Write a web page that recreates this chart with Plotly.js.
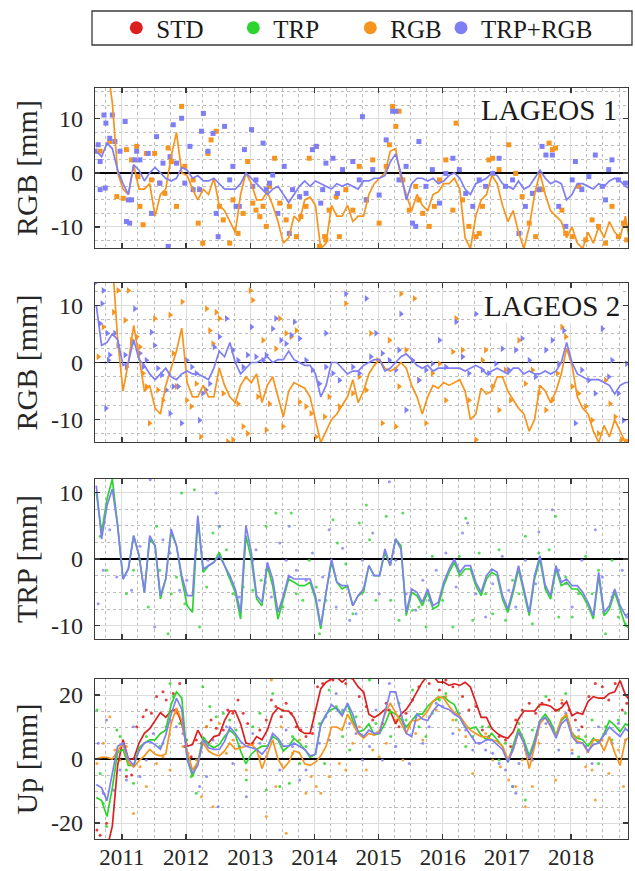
<!DOCTYPE html>
<html><head><meta charset="utf-8">
<script src="https://cdn.plot.ly/plotly-3.0.1.min.js"></script>
<style>html,body{margin:0;padding:0;background:#fff}#chart{width:635px;height:871px}</style>
</head><body><div id="chart"></div>
<script>
// ---------- sampling epochs of the smoothed series (monthly, decimal year) ----------
const EPOCH_START = 2010.6, EPOCH_STEP = 1/12, EPOCH_COUNT = 101;
const epochs = Array.from({length: EPOCH_COUNT}, (_, i) => +(EPOCH_START + i*EPOCH_STEP).toFixed(3));

const years = [2011,2012,2013,2014,2015,2016,2017,2018];
const yearLabels = ['2011','2012','2013','2014','2015','2016','2017','2018'];
const legendNames = ['STD','TRP','RGB','TRP+RGB'];

// ---------- panel 1: LAGEOS 1, RGB [mm] ----------
const l1_RGB = [30,26,20,13,0,-3,-4,1.5,-3,-3,
-2,-8,-4,-3,3,7.5,0,-0.5,-3,-5,
-3,-4,-1,-6,-7,-9,-11,-4,0,-2,
-5,-5,-3.5,-6,-9,-13,-12,-8,-9,-5,
-4.5,-6,-14,-13,-6,-8,-8,-6,-9,-8,
-8,-4,-2,-1,0,4,4.5,-1,-4,-7,
-4,-6,-7,-4,-3.5,-2,-2,-1,-3,-12,
-14,-8,-5,-4,-0.5,-2,-6,-9,-7,-11,
-14,-10,-4,0,-4,-7,-8,-9,-12,-10,
-13,-14,-11,-13,-10,-12,-9,-11,-12,-8,
-14];
const l1_TRPRGB = [4,3,5.5,4.5,0.5,-2,-4,1.5,0.5,-1.5,
0,1,0,-1,-1.5,-1,1,0.5,-1,-0.5,
-1.5,-1.5,-1,-2,-3,-3,-3,-2,0,-1,
-2,-3,-4,-3,-2.5,-4,-5.5,-4,-2.5,-1.5,
-2.5,-1.5,-2,-2.5,-3,-2,-2.5,-2,-2.5,-3,
-1.5,-1.5,-1,-1,-0.5,2,3.5,0,-5,-2,
-1,-1,-1.5,-1,-2,-1.5,-0.5,0,-1,-3,
-4,-2,-1.5,-1,0,-0.5,-2,-2.5,-3,-1.5,
-3,-2.5,-1,0.5,-1,-2,-1.5,-2,-5,-4,
-2,-2,-2.5,-3,-2,-2.5,-1.5,-1,-1.5,-2.5,
-3];
const ptsL1_RGB = [[2010.66,4.0],[2010.81,5.8],[2010.92,-4.4],[2011.02,-4.7],[2011.07,4.3],[2011.15,2.4],[2011.23,4.9],[2011.28,-6.2],[2011.33,-9.6],[2011.25,-0.7],[2011.38,3.6],[2011.46,-1.3],[2011.51,3.6],[2011.59,-1.9],[2011.67,-3.8],[2011.72,4.6],[2011.77,2.1],[2011.85,-6.2],[2011.93,12.3],[2011.98,1.2],[2012.11,-1.3],[2012.19,-9.3],[2012.26,-13.0],[2012.34,3.6],[2012.39,6.1],[2012.47,7.7],[2012.52,-6.2],[2012.58,-8.7],[2012.68,-13.0],[2012.73,-5.0],[2012.81,-11.2],[2012.89,-7.5],[2012.96,2.1],[2013.04,-5.6],[2013.09,-6.9],[2013.15,-8.1],[2013.20,-6.2],[2013.25,-9.9],[2013.30,-2.5],[2013.38,2.7],[2013.46,-5.6],[2013.56,-8.7],[2013.61,-6.2],[2013.72,-11.8],[2013.79,-8.1],[2013.87,-6.2],[2013.92,2.7],[2014.03,4.9],[2014.08,-13.6],[2014.16,-11.8],[2014.18,-12.4],[2014.23,-6.9],[2014.34,-4.4],[2014.39,-11.8],[2014.49,-3.1],[2014.60,-6.9],[2014.70,1.2],[2014.81,-5.0],[2014.91,2.4],[2015.01,-9.3],[2015.12,1.2],[2015.17,5.2],[2015.22,12.3],[2015.27,8.6],[2015.32,11.4],[2015.38,-1.3],[2015.48,-6.9],[2015.58,-2.5],[2015.63,-5.0],[2015.69,-7.5],[2015.79,-9.9],[2015.87,-6.2],[2015.95,-1.3],[2016.05,2.4],[2016.16,-6.9],[2016.21,9.2],[2016.31,-5.0],[2016.41,-9.9],[2016.52,-11.8],[2016.57,-11.2],[2016.62,-6.2],[2016.72,2.4],[2016.78,2.7],[2016.88,0.6],[2017.03,5.2],[2017.14,-0.1],[2017.24,-4.4],[2017.35,-9.3],[2017.45,-11.8],[2017.55,-3.1],[2017.66,5.5],[2017.71,4.3],[2017.76,4.6],[2017.86,-6.9],[2017.92,-11.2],[2018.02,-11.8],[2018.12,-2.5],[2018.23,-12.4],[2018.33,-8.7],[2018.43,-9.9],[2018.54,-13.0],[2018.64,-6.2],[2018.74,-11.8],[2018.82,-9.3],[2018.87,-12.4]];
const ptsL1_TRPRGB = [[2010.58,4.0],[2010.63,5.2],[2010.72,10.7],[2010.75,9.2],[2010.81,6.4],[2010.66,2.1],[2010.74,-2.8],[2010.66,-3.1],[2010.85,10.7],[2010.89,5.8],[2010.97,4.0],[2011.05,9.5],[2011.10,-5.0],[2011.15,-5.0],[2011.20,2.4],[2011.07,-9.0],[2011.12,-9.3],[2011.23,4.0],[2011.28,2.4],[2011.41,3.6],[2011.46,-7.5],[2011.54,6.7],[2011.59,-1.9],[2011.64,1.8],[2011.72,-13.6],[2011.75,3.0],[2011.80,8.9],[2011.85,1.8],[2011.93,10.1],[2011.98,-1.9],[2012.06,4.9],[2012.11,-3.1],[2012.21,-3.1],[2012.24,7.7],[2012.27,11.0],[2012.34,4.0],[2012.42,7.3],[2012.47,-7.5],[2012.50,-11.8],[2012.60,8.6],[2012.68,-1.3],[2012.73,1.2],[2012.78,-6.2],[2012.83,-6.2],[2012.91,4.3],[2013.02,8.0],[2013.04,-2.5],[2013.09,-1.3],[2013.20,5.5],[2013.25,-3.1],[2013.30,-1.9],[2013.35,-0.4],[2013.43,-7.5],[2013.53,1.2],[2013.61,-11.2],[2013.66,-3.1],[2013.77,-4.4],[2013.87,-3.8],[2013.97,4.3],[2014.03,4.9],[2014.10,-5.6],[2014.18,1.8],[2014.13,-3.1],[2014.29,2.7],[2014.36,-3.8],[2014.44,0.6],[2014.60,2.1],[2014.70,-1.3],[2014.75,10.4],[2014.81,-5.0],[2014.91,0.6],[2015.01,-4.1],[2015.12,6.1],[2015.22,11.4],[2015.27,11.4],[2015.32,-1.3],[2015.43,1.2],[2015.53,-9.3],[2015.58,-9.9],[2015.63,5.8],[2015.74,-2.5],[2015.84,0.6],[2015.95,-5.6],[2016.05,-0.1],[2016.16,2.7],[2016.26,0.6],[2016.36,-3.8],[2016.47,-6.2],[2016.57,-1.3],[2016.67,-2.5],[2016.78,-0.1],[2016.88,2.7],[2016.98,-2.5],[2017.09,-1.3],[2017.19,-11.2],[2017.29,-6.2],[2017.40,-3.8],[2017.50,-3.1],[2017.55,4.9],[2017.61,3.3],[2017.71,3.3],[2017.81,-6.2],[2017.92,-9.9],[2018.02,-1.3],[2018.07,2.1],[2018.17,-3.1],[2018.28,-0.7],[2018.38,3.3],[2018.49,-2.5],[2018.54,-5.0],[2018.59,0.6],[2018.64,2.4],[2018.74,-1.3],[2018.85,-1.9]];

// ---------- panel 2: LAGEOS 2, RGB [mm] ----------
const l2_RGB = [30,28,24,18,4,-5,0,6.5,1,-5,
-4,-8,-9,-4,-1,2,6,-3.5,-6,-6,
-4,-6,-6,-1,-4,-6,-7,-4,-2.5,-3.5,
-2,-7,-4,-2.5,-6,-9.5,-5,-3.5,-4,-4.5,
-6,-10,-14,-12,-10,-9,-7.5,-6,-3,-7,
-5,-2,-0.5,0.5,-1,-1.5,-1,0,-1,-4,
-6,-9,-6,-4,-4.5,-3.5,-4,-3.5,-3,-5,
-10,-9,-4.5,-5.5,-5,-2.5,-2.5,-5,-6.5,-8,
-9,-12,-10,-4,-5,-7,-5,-2,2.5,-0.5,
-6,-8,-9,-12,-14,-11,-13,-10,-12,-14,
-13];
const l2_TRPRGB = [10,3,3.5,5,4,-0.5,0,4,0.5,-0.5,
-2,-3,-2,-1,-2.5,-3,-2,-1.5,-2,-2,
-2.5,-3,-1,2,1,3.5,0,-2,-1,0,
0,0.5,1,0,0.5,0.5,2,0.5,0,-0.5,
-0.5,-2,-6,-4,0,0,-1,-2,-1.5,-1.5,
-0.5,0,0.5,0.5,-1.5,-1,0,1,1.5,0.5,
-0.5,-1,-0.5,-1.5,-1,-1,-1,-1,-1,-1.5,
-1,-0.5,-1,-2,-1.5,-1,-1.5,-2,-1,-1,
-2,-1.5,-2,-2,-1.5,-2,-1.5,0,3.5,0,
-2,-2.5,-3,-3,-3,-3.5,-4,-5.5,-4,-3.5,
-3.5];
const ptsL2_RGB = [[2010.63,1.0],[2010.71,6.2],[2010.87,8.8],[2010.94,12.6],[2011.05,7.4],[2011.10,12.6],[2011.15,3.9],[2011.23,4.5],[2011.28,2.7],[2011.33,-1.9],[2011.38,-4.2],[2011.43,-10.6],[2011.51,7.7],[2011.56,-4.8],[2011.64,-6.6],[2011.75,8.3],[2011.80,1.6],[2011.85,-4.2],[2011.94,10.6],[2012.01,-6.6],[2012.08,-7.7],[2012.16,-3.7],[2012.23,-13.0],[2012.32,9.4],[2012.37,5.6],[2012.42,3.3],[2012.47,8.8],[2012.52,7.7],[2012.58,-5.4],[2012.65,-13.8],[2012.73,-13.5],[2012.81,-7.2],[2012.89,-11.2],[2012.96,-12.4],[2013.00,12.6],[2013.04,10.9],[2013.12,-6.0],[2013.20,3.9],[2013.25,-11.8],[2013.30,-7.2],[2013.40,2.4],[2013.46,7.7],[2013.51,-11.2],[2013.56,5.1],[2013.64,4.5],[2013.72,5.6],[2013.77,-6.9],[2013.87,-7.7],[2013.95,-8.9],[2014.03,-13.0],[2014.16,-9.5],[2014.23,-6.0],[2014.39,-7.7],[2014.49,10.3],[2014.60,-5.4],[2014.70,-2.5],[2014.81,-4.8],[2014.88,5.1],[2014.99,0.4],[2015.06,-10.6],[2015.17,3.9],[2015.27,-11.2],[2015.32,-4.2],[2015.35,12.0],[2015.43,2.2],[2015.56,11.2],[2015.63,-3.1],[2015.74,-10.6],[2015.84,-1.9],[2015.95,-0.2],[2016.05,-6.6],[2016.16,1.9],[2016.21,7.7],[2016.31,2.2],[2016.41,-6.6],[2016.52,-13.5],[2016.62,0.4],[2016.67,2.2],[2016.78,-4.2],[2016.88,-8.3],[2016.98,-1.3],[2017.06,-6.6],[2017.19,3.9],[2017.29,-3.7],[2017.40,-1.3],[2017.50,-5.4],[2017.61,-8.3],[2017.71,-6.6],[2017.79,-1.9],[2017.86,6.2],[2017.92,4.5],[2018.02,-4.2],[2018.12,-5.4],[2018.23,-7.7],[2018.33,-10.1],[2018.43,-12.4],[2018.54,-3.1],[2018.61,-7.2],[2018.69,-9.5],[2018.79,-13.5],[2018.87,-13.8]];
const ptsL2_TRPRGB = [[2010.60,14.1],[2010.71,12.6],[2010.69,10.3],[2010.66,6.8],[2010.77,5.1],[2010.79,0.4],[2010.81,1.3],[2010.89,5.1],[2010.94,3.0],[2011.05,1.3],[2011.07,-0.8],[2011.15,3.3],[2011.20,9.4],[2011.28,1.6],[2011.33,-0.8],[2011.38,0.4],[2011.46,5.3],[2011.51,3.0],[2011.56,-1.0],[2011.62,-2.2],[2011.69,-4.8],[2011.75,-8.9],[2011.80,-4.2],[2011.88,-4.2],[2011.93,-10.6],[2012.01,0.4],[2012.09,-0.8],[2012.16,-1.9],[2012.21,-10.1],[2012.26,-5.4],[2012.31,-4.8],[2012.37,-3.7],[2012.44,2.7],[2012.52,4.5],[2012.63,7.7],[2012.73,2.2],[2012.81,0.4],[2012.89,-0.8],[2012.96,1.3],[2013.02,6.2],[2013.09,1.0],[2013.20,0.4],[2013.25,1.3],[2013.35,5.9],[2013.40,7.7],[2013.48,3.9],[2013.56,3.3],[2013.64,4.8],[2013.69,7.1],[2013.77,4.2],[2013.87,0.4],[2013.97,-1.3],[2014.08,-3.7],[2014.18,-0.8],[2010.75,-8.0],[2014.18,5.1],[2014.29,-1.9],[2014.39,-3.1],[2014.49,12.0],[2014.60,-0.8],[2014.70,-1.9],[2014.81,11.2],[2014.88,1.0],[2014.96,5.1],[2015.06,1.6],[2015.17,0.4],[2015.27,-1.3],[2015.32,2.2],[2015.35,8.5],[2015.43,-8.3],[2015.53,0.4],[2015.63,-3.1],[2015.74,-1.3],[2015.84,-0.2],[2015.95,3.9],[2016.05,-0.8],[2016.21,7.1],[2016.31,1.0],[2016.41,-1.9],[2016.52,8.5],[2016.62,-1.3],[2016.72,-1.9],[2016.83,-0.2],[2016.93,2.4],[2017.03,-1.3],[2017.14,2.2],[2017.24,4.2],[2017.35,0.4],[2017.45,-2.5],[2017.61,2.2],[2017.71,3.9],[2017.81,-0.2],[2017.89,5.6],[2017.97,12.3],[2018.07,-10.6],[2018.17,-1.3],[2018.28,-3.1],[2018.38,-5.4],[2018.49,5.9],[2018.59,-2.5],[2018.64,0.4],[2018.74,-5.4],[2018.82,-10.1],[2018.87,-0.2]];

// ---------- panel 3: TRP [mm] ----------
const trp_TRP = [10,4,9,12,5,-3,-1.5,3.5,0.5,-5,
3,2,-6,-3,4,2,-3,-7,-8,6,
-2,-1,-0.5,1,-1,-3,-5,-9,3.5,0,
-6,-7,-1,-4,-9,-6,-3,-3.5,-4,-4,
-3.5,-6,-10.5,-5,-0.5,-3.5,-4.5,-4,-7,-5.5,
-5,-1,-2.5,-2.5,1,-1,3,2,-8.5,-5,
-5.5,-7,-5,-7.5,-7,-4,-2,-0.5,-2.5,-1.5,
-1.5,-4,-5.5,-3,-2,-2.5,-6,-8,-5,-1.5,
-5,-8.5,-3,0,-4.5,-6,-1.5,-4,-3.5,-4.5,
-4.5,-5.5,-7,-9,-2.5,-8.5,-7.5,-5,-7.5,-10,
-10.5];
const trp_TRPRGB = [11,3,8,10.5,5,-3,-1.5,3.5,0.5,-5,
3.5,2,-5.5,-3,4.5,2,-2.5,-5.5,-5.5,6.5,
-1.5,-1,-0.5,0.5,-1,-2.5,-4.5,-8,5,1,
-5.5,-6.5,-0.5,-3,-8,-5.5,-2.5,-3,-3,-3,
-3,-5.5,-10,-5,0,-3.5,-4,-4,-7,-5.5,
-4.5,-1,-2.5,-2.5,1.5,-1,3,1.5,-8,-4.5,
-5,-6.5,-4.5,-7,-6.5,-3.5,-1.5,0,-2,-1,
-1,-3.5,-5,-2.5,-1.5,-2,-5.5,-7.5,-4.5,-1,
-4.5,-8,-2.5,0.5,-4,-5.5,-1,-3.5,-3,-4,
-4,-5,-6.5,-8.5,-2,-8,-7,-4.5,-7,-8.5,
-8];
const ptsTRP_TRP = [[2010.66,3.4],[2010.76,-1.7],[2011.07,-5.2],[2011.18,-1.7],[2011.28,-0.2],[2011.41,-7.2],[2011.54,4.9],[2011.59,-1.7],[2011.72,-11.2],[2011.77,-5.2],[2011.85,-2.7],[2011.93,9.9],[2011.98,-6.7],[2012.13,10.4],[2012.21,-10.2],[2012.32,-4.2],[2012.42,3.9],[2012.52,4.9],[2012.63,1.4],[2012.73,-5.2],[2012.89,-4.2],[2013.04,-4.7],[2013.17,-3.2],[2013.25,4.9],[2013.40,6.9],[2013.51,-7.2],[2013.64,6.9],[2013.72,-5.2],[2013.82,-6.2],[2013.92,-0.2],[2014.03,-4.2],[2014.08,-11.2],[2014.18,-6.2],[2014.29,5.9],[2014.36,2.4],[2014.49,-0.7],[2014.60,-8.2],[2014.70,5.4],[2014.81,8.1],[2014.86,2.9],[2014.96,-6.2],[2015.12,6.4],[2015.19,-6.2],[2015.32,-9.2],[2015.38,6.9],[2015.53,-7.7],[2015.63,-7.2],[2015.74,-10.2],[2015.84,0.4],[2016.00,-6.2],[2016.16,-10.2],[2016.26,0.4],[2016.36,6.1],[2016.47,-9.2],[2016.57,0.9],[2016.67,-5.2],[2016.78,-8.2],[2016.88,1.4],[2016.98,-9.2],[2017.09,-3.2],[2017.19,-5.2],[2017.29,3.4],[2017.40,-9.7],[2017.50,0.9],[2017.66,1.4],[2017.76,6.4],[2017.81,-8.7],[2017.92,-2.7],[2018.02,-8.7],[2018.12,-5.2],[2018.23,0.4],[2018.33,-5.2],[2018.43,-1.7],[2018.54,-11.2],[2018.64,-0.2],[2018.74,-8.7],[2018.85,-9.7]];
const ptsTRP_TRPRGB = [[2010.63,-6.7],[2010.71,-1.7],[2010.81,4.4],[2010.92,-2.7],[2011.15,-4.7],[2011.28,1.9],[2011.44,11.9],[2011.51,-10.2],[2011.64,2.9],[2011.75,0.9],[2011.90,-4.7],[2012.01,-3.2],[2012.16,1.4],[2012.34,-0.2],[2012.47,9.9],[2012.52,4.9],[2012.68,-2.7],[2012.83,-5.7],[2013.04,-0.2],[2013.09,1.4],[2013.25,-1.7],[2013.33,-5.7],[2013.46,2.4],[2013.56,-0.2],[2013.61,4.9],[2013.72,-1.7],[2013.87,-3.2],[2013.97,0.9],[2014.08,-6.2],[2014.13,-2.7],[2014.23,4.4],[2014.34,-7.2],[2014.44,1.6],[2014.55,-9.2],[2014.65,-8.2],[2014.75,-0.2],[2014.91,3.9],[2015.01,-5.2],[2015.17,11.6],[2015.27,-0.2],[2015.43,-5.2],[2015.58,-7.7],[2015.69,-3.2],[2015.79,-6.2],[2015.90,-1.7],[2016.05,0.9],[2016.21,-4.2],[2016.31,3.9],[2016.39,5.4],[2016.52,-5.2],[2016.67,-8.7],[2016.78,-3.7],[2016.93,0.4],[2017.03,-4.7],[2017.14,-7.2],[2017.29,-0.2],[2017.45,-3.7],[2017.50,4.1],[2017.61,-4.2],[2017.71,7.4],[2017.81,-1.7],[2017.92,-3.7],[2018.02,-7.2],[2018.17,-0.2],[2018.38,4.4],[2018.49,-2.7],[2018.64,-5.7],[2018.80,-1.7],[2018.87,-8.7]];

// ---------- panel 4: Up [mm] ----------
const up_STD = [-40,-35,-28,-21,-2,6,0,0,5,8,
9.5,12,14.5,13,15,15.5,11,4,4.5,9,
6,5,7,7.5,12,15,15,11,5,4.5,
7,6,9,14,16,15,15,13,9,8,
8,15,22,24,25,25.5,24,25.5,25,22.5,
21,14,13,14,15.5,15,11,14,15.5,18,
21,24,26,26,24,24,23,23.5,23,24,
22.5,18,13,13,9.5,8,7,6.5,8.5,12.5,
15,15,15,17,17,16.5,15,16,18,13.5,
14.5,14,18,19.5,19,19,20.5,21,24.5,20,
18];
const up_TRP = [-12,-13,-18,-9,2,3,-2,-2,3.5,5,
6,6,8,9,17,21,19,0,-5.5,-1,
7,4.5,3.5,4.5,7,9,7.5,2.5,-1.5,1.5,
3,4,4,7,6,2.5,4,6.5,5,3,
0.5,1.5,11,14,15.5,16,14,17,12,8.5,
9,11,7.5,8,11,15,14,12.5,10,12,
14,14,16.5,18,19,19.5,18,17,13,10,
9.5,10,7.5,6,8,6,4,-1,4,9.5,
6,1,6,12,14,11.5,7.5,12,13.5,8,
6.5,6,4,6.5,5,8,12,10.5,8.5,11,
10];
const up_RGB = [0,0.5,0.5,0,2.5,5,-1,-2.5,-0.5,1,
3,1.5,1,1.5,11,16,12,2.5,-3.5,-1,
5,2.5,1.5,1,2.5,5,3,3.5,4,4.5,
3,-3,1.5,6,0,-3,-1,2.5,2,-1.5,
-2,-1,1,4,10,10,9,14,11,8,
6.5,8,7.5,9,14,17.5,14.5,11,8,12,
12,13,15,18,19.5,19,16.5,14.5,13.5,11,
9,8,7,7,6,5.5,4,0,3,8.5,
5,-3,4,11,13,10,7,12.5,14,8,
5.5,5,2,6,6,2.5,7,2,-2,6,
7];
const up_TRPRGB = [-8,-9,-13,-4.5,4,5,0,-2,2.5,5,
5.5,4.5,3,7.5,14,19,15.5,0,-4.5,-2,
6,3.5,3,3,5.5,10,8,5.5,4,3.5,
3,1.5,3.5,8,6.5,4,4,5,4,3,
1,1.5,10.5,14,17,15.5,13.5,17.5,14,8.5,
7,9,8,8,15,21,21,14,8,7,
14,12.5,12,15,17,16,15.5,14,13,10,
7.5,5,5,6,6,4.5,3,-1,3,8.5,
5,0,5,12,13,10.5,6.5,11,12.5,7,
5,5,2.5,4.5,5,7.5,10,8.5,7,9.5,
8];
const ptsUp_STD = [[2010.61,-22.2],[2010.66,-23.8],[2010.76,-20.1],[2011.07,-5.5],[2011.15,-5.0],[2011.23,10.1],[2011.33,13.2],[2011.38,15.3],[2011.46,14.3],[2011.54,19.5],[2011.64,21.0],[2011.69,18.4],[2011.80,20.5],[2011.90,23.6],[2011.98,3.9],[2012.08,0.7],[2012.16,5.9],[2012.24,4.9],[2012.32,10.1],[2012.39,12.2],[2012.47,9.6],[2012.58,9.1],[2012.65,15.3],[2012.73,14.3],[2012.81,18.4],[2012.89,14.3],[2012.96,11.1],[2013.04,4.9],[2013.15,9.1],[2013.25,12.2],[2013.33,18.4],[2013.40,16.4],[2013.48,13.2],[2013.56,17.4],[2013.64,14.3],[2013.72,10.1],[2013.79,9.1],[2013.87,7.0],[2013.97,8.0],[2014.05,22.6],[2014.13,23.6],[2014.29,24.7],[2014.49,23.6],[2014.70,19.5],[2014.81,16.4],[2014.91,12.2],[2015.06,11.1],[2015.12,17.4],[2015.17,15.3],[2015.32,10.1],[2015.43,14.3],[2015.53,18.4],[2015.63,22.6],[2015.79,23.6],[2015.95,21.6],[2016.05,24.7],[2016.16,22.6],[2016.31,19.5],[2016.41,15.3],[2016.52,16.4],[2016.62,9.1],[2016.72,7.0],[2016.88,7.0],[2016.98,5.9],[2017.06,3.9],[2017.14,12.2],[2017.24,15.3],[2017.35,17.4],[2017.45,14.3],[2017.55,17.4],[2017.66,18.4],[2017.76,15.3],[2017.86,17.4],[2017.97,15.3],[2018.07,12.2],[2018.17,10.1],[2018.28,19.5],[2018.38,23.6],[2018.49,22.6],[2018.59,18.4],[2018.69,23.6],[2018.80,15.3],[2018.87,17.4]];
const ptsUp_TRP = [[2010.61,15.3],[2010.66,-4.5],[2010.71,-13.9],[2010.76,-21.1],[2010.92,9.1],[2010.97,7.0],[2011.07,-3.4],[2011.18,-7.6],[2011.38,7.0],[2011.59,3.9],[2011.69,10.1],[2011.75,23.6],[2011.80,19.5],[2011.90,11.1],[2012.01,5.9],[2012.08,-5.5],[2012.16,-10.7],[2012.26,22.6],[2012.37,16.4],[2012.47,13.2],[2012.58,14.3],[2012.68,12.2],[2012.78,9.1],[2012.94,-6.6],[2013.04,10.1],[2013.15,14.3],[2013.25,-9.7],[2013.35,20.5],[2013.46,-8.6],[2013.51,15.3],[2013.61,-7.6],[2013.66,7.0],[2013.77,-1.4],[2013.87,3.9],[2014.00,14.3],[2014.08,11.1],[2014.16,-1.4],[2014.23,21.6],[2014.34,16.4],[2014.44,7.0],[2014.55,2.8],[2014.65,13.2],[2014.86,24.7],[2014.96,11.1],[2015.12,15.3],[2015.19,7.0],[2015.32,17.4],[2015.43,12.2],[2015.53,21.6],[2015.63,10.1],[2015.74,7.0],[2015.84,14.3],[2015.95,18.4],[2016.05,20.5],[2016.21,12.2],[2016.36,3.9],[2016.47,7.0],[2016.62,10.1],[2016.72,10.1],[2016.88,-0.3],[2016.98,4.9],[2017.09,-8.6],[2017.19,11.1],[2017.29,-12.8],[2017.40,9.1],[2017.50,16.4],[2017.61,19.5],[2017.71,10.1],[2017.81,15.3],[2017.92,20.5],[2018.02,8.0],[2018.12,0.7],[2018.23,7.0],[2018.33,12.2],[2018.43,-1.4],[2018.54,10.1],[2018.64,5.9],[2018.74,12.2],[2018.85,14.3]];
const ptsUp_RGB = [[2010.61,-1.4],[2010.71,4.9],[2010.81,13.2],[2010.89,2.8],[2010.97,-0.3],[2011.07,3.9],[2011.18,-17.0],[2011.28,-2.4],[2011.38,-8.6],[2011.54,-1.4],[2011.64,0.7],[2011.75,-3.4],[2011.85,14.3],[2011.95,3.9],[2012.03,1.8],[2012.16,-0.3],[2012.24,-11.8],[2012.32,10.1],[2012.42,-14.9],[2012.52,11.1],[2012.63,1.8],[2012.73,5.9],[2012.83,3.9],[2012.94,-3.4],[2013.04,4.9],[2013.15,0.7],[2013.25,-18.0],[2013.33,24.7],[2013.40,-8.6],[2013.48,10.1],[2013.56,-23.2],[2013.66,1.8],[2013.77,5.9],[2013.87,-10.7],[2013.95,-5.5],[2014.03,-8.6],[2014.10,-10.7],[2014.23,-5.5],[2014.39,-1.4],[2014.49,-3.4],[2014.60,4.9],[2014.70,10.1],[2014.81,-3.4],[2014.91,2.8],[2015.01,0.7],[2015.12,4.9],[2015.27,12.2],[2015.38,-0.3],[2015.48,10.1],[2015.58,8.0],[2015.69,5.9],[2015.79,13.2],[2015.90,15.3],[2016.05,19.5],[2016.16,12.2],[2016.26,9.1],[2016.36,7.0],[2016.47,-4.5],[2016.57,4.9],[2016.67,8.0],[2016.78,-0.3],[2016.90,-2.4],[2017.03,-6.6],[2017.14,-8.6],[2017.24,-0.3],[2017.29,-14.9],[2017.40,-8.6],[2017.50,4.9],[2017.66,12.2],[2017.76,-6.6],[2017.86,18.4],[2018.02,2.8],[2018.12,7.0],[2018.23,-2.4],[2018.33,-3.4],[2018.38,-12.8],[2018.49,5.9],[2018.59,-4.5],[2018.74,2.8],[2018.82,-8.6]];
const ptsUp_TRPRGB = [[2010.63,4.9],[2010.71,-10.7],[2010.76,12.2],[2010.87,-9.7],[2010.97,-3.4],[2011.07,-6.6],[2011.18,10.1],[2011.28,-5.5],[2011.38,-0.3],[2011.49,8.0],[2011.64,4.9],[2011.75,12.2],[2011.85,10.1],[2011.95,8.0],[2012.06,-0.3],[2012.21,-8.6],[2012.32,-5.5],[2012.42,5.9],[2012.50,-14.9],[2012.63,10.1],[2012.73,-1.4],[2012.83,3.9],[2012.94,-11.8],[2013.04,8.0],[2013.15,4.9],[2013.25,0.7],[2013.35,7.0],[2013.46,-3.4],[2013.56,9.1],[2013.66,3.9],[2013.77,-6.6],[2013.87,-3.4],[2013.97,10.1],[2014.08,4.9],[2014.18,13.2],[2014.23,5.9],[2014.34,20.5],[2014.44,15.3],[2014.55,11.1],[2014.65,8.0],[2014.75,-0.3],[2014.86,3.9],[2014.96,15.3],[2015.06,-0.3],[2015.17,23.6],[2015.27,3.9],[2015.38,11.1],[2015.48,-1.4],[2015.58,13.2],[2015.69,4.9],[2015.79,10.1],[2015.90,17.4],[2016.00,16.4],[2016.16,8.0],[2016.26,14.3],[2016.36,9.1],[2016.47,2.8],[2016.57,4.9],[2016.67,2.8],[2016.78,1.8],[2016.88,-1.4],[2016.98,-3.4],[2017.09,-8.6],[2017.14,-10.7],[2017.19,-1.4],[2017.29,2.8],[2017.40,-0.3],[2017.50,10.1],[2017.61,11.1],[2017.71,10.1],[2017.81,2.8],[2017.92,14.3],[2018.02,1.8],[2018.12,9.1],[2018.23,3.9],[2018.33,-1.4],[2018.43,10.1],[2018.54,8.0],[2018.64,4.9],[2018.74,11.1],[2018.85,5.9]];

// ---------- styling ----------
const C = {STD:'#dc1f1f', TRP:'#2ed42e', RGB:'#f7941d', TRPRGB:'#7f7ff5'};
const FONT = "'Liberation Serif', 'Times New Roman', Times, 'DejaVu Serif', serif";
const W = 635, H = 871;
const dom = (top, bot) => [1 - bot/H, 1 - top/H];

const traces = [];
function pts(arr, color, symbol, size, xa, ya, op){
  traces.push({type:'scatter', mode:'markers', x:arr.map(p=>p[0]), y:arr.map(p=>p[1]),
    xaxis:xa, yaxis:ya, showlegend:false, hoverinfo:'skip',
    marker:{color, symbol, size, opacity:op||1, line:{width:0}}});
}
function line(vals, color, xa, ya){
  traces.push({type:'scatter', mode:'lines', x:epochs, y:vals, xaxis:xa, yaxis:ya,
    showlegend:false, hoverinfo:'skip', line:{color, width:1.7}});
}
// panel 1
pts(ptsL1_RGB, C.RGB, 'square', 5, 'x', 'y');
pts(ptsL1_TRPRGB, C.TRPRGB, 'square', 5, 'x', 'y');
line(l1_RGB, C.RGB, 'x', 'y');
line(l1_TRPRGB, C.TRPRGB, 'x', 'y');
// panel 2
pts(ptsL2_RGB, C.RGB, 'triangle-right', 6, 'x2', 'y2');
pts(ptsL2_TRPRGB, C.TRPRGB, 'triangle-right', 6, 'x2', 'y2');
line(l2_RGB, C.RGB, 'x2', 'y2');
line(l2_TRPRGB, C.TRPRGB, 'x2', 'y2');
// panel 3
pts(ptsTRP_TRP, C.TRP, 'circle', 3, 'x3', 'y3', 0.8);
pts(ptsTRP_TRPRGB, C.TRPRGB, 'circle', 3, 'x3', 'y3', 0.8);
line(trp_TRP, C.TRP, 'x3', 'y3');
line(trp_TRPRGB, C.TRPRGB, 'x3', 'y3');
// panel 4
pts(ptsUp_STD, C.STD, 'circle', 3, 'x4', 'y4', 0.85);
pts(ptsUp_TRP, C.TRP, 'circle', 3, 'x4', 'y4', 0.85);
pts(ptsUp_RGB, C.RGB, 'circle', 3, 'x4', 'y4', 0.85);
pts(ptsUp_TRPRGB, C.TRPRGB, 'circle', 3, 'x4', 'y4', 0.85);
line(up_STD, C.STD, 'x4', 'y4');
line(up_TRP, C.TRP, 'x4', 'y4');
line(up_RGB, C.RGB, 'x4', 'y4');
line(up_TRPRGB, C.TRPRGB, 'x4', 'y4');
// legend entries (last one in a second legend so its label is never truncated)
[C.STD, C.TRP, C.RGB, C.TRPRGB].forEach((c, k) => traces.push({type:'scatter', mode:'markers',
  x:[null], y:[null], xaxis:'x', yaxis:'y', name:legendNames[k], showlegend:true,
  legend: k < 3 ? 'legend' : 'legend2',
  marker:{color:c, size:13, symbol:'circle'}}));

const axLine = {showline:true, linecolor:'#3a3a3a', linewidth:1.3, mirror:'ticks',
  ticks:'inside', ticklen:5, tickwidth:1.3, tickcolor:'#3a3a3a',
  showgrid:true, gridcolor:'#dcdcdc', gridwidth:1, fixedrange:true,
  tickfont:{family:FONT, size:24, color:'#262626'}};

function xax(anchor, show){
  return Object.assign({}, axLine, {anchor, domain:[0,1], range:[2010.58, 2018.89],
    tickmode:'array', tickvals:years, ticktext:yearLabels, showticklabels:show,
    zeroline:false, ticklabelstandoff:-3, tickfont:{family:FONT, size:23, color:'#262626'},
    minor:{tickmode:'linear', tick0:2011, dtick:0.25, showgrid:true, gridcolor:'#bdbdbd', griddash:'dot', gridwidth:1, ticks:''}});
}
function yax(anchor, d, range, vals, minorStep, title){
  return Object.assign({}, axLine, {anchor, domain:d, range,
    tickmode:'array', tickvals:vals, ticktext:vals.map(v=>String(v)),
    zeroline:true, zerolinecolor:'#000', zerolinewidth:1.5, ticklabelstandoff:6,
    minor:{tickmode:'linear', tick0:0, dtick:minorStep, showgrid:true, gridcolor:'#bdbdbd', griddash:'dot', gridwidth:1, ticks:''},
    title:{text:title, font:{family:FONT, size:30, color:'#262626'}, standoff:4}});
}

const legendCommon = {orientation:'h', xanchor:'left', y:1-28/H, yanchor:'middle',
  font:{family:FONT, size:25, color:'#1a1a1a'}, bgcolor:'rgba(0,0,0,0)', borderwidth:0,
  itemwidth:30, itemsizing:'trace'};

const layout = {
  width:W, height:H, margin:{l:95, r:7, t:0, b:0},
  paper_bgcolor:'#fff', plot_bgcolor:'#fff', showlegend:true,
  xaxis:xax('y', false), xaxis2:Object.assign(xax('y2', false), {matches:'x'}),
  xaxis3:Object.assign(xax('y3', false), {matches:'x'}), xaxis4:Object.assign(xax('y4', true), {matches:'x'}),
  yaxis:yax('x', dom(88,248), [-13.9, 15.7], [-10,0,10], 2.5, 'RGB [mm]'),
  yaxis2:yax('x2', dom(283,442), [-13.9, 13.9], [-10,0,10], 2.5, 'RGB [mm]'),
  yaxis3:yax('x3', dom(479,639), [-12, 12], [-10,0,10], 2.5, 'TRP [mm]'),
  yaxis4:yax('x4', dom(679,839), [-25, 25], [-20,0,20], 5, 'Up [mm]'),
  legend:Object.assign({}, legendCommon, {x:0.04, entrywidth:72, entrywidthmode:'pixels'}),
  legend2:Object.assign({}, legendCommon, {x:(465-24-95)/533}),
  shapes:[{type:'rect', xref:'paper', yref:'paper', x0:(92-95)/533, x1:(632-95)/533,
    y0:1-45/H, y1:1-11/H, line:{color:'#3a3a3a', width:1.3}, fillcolor:'rgba(0,0,0,0)'}],
  annotations:[
    {text:'LAGEOS 1', xref:'paper', yref:'y domain', x:(618-95)/533, y:0.8625, xanchor:'right', yanchor:'middle',
     showarrow:false, bgcolor:'#fff', borderpad:0, font:{family:FONT, size:29, color:'#1a1a1a'}},
    {text:'LAGEOS 2', xref:'paper', yref:'y2 domain', x:(621-95)/533, y:0.855, xanchor:'right', yanchor:'middle',
     showarrow:false, bgcolor:'#fff', borderpad:0, font:{family:FONT, size:29, color:'#1a1a1a'}}
  ]
};
Plotly.newPlot('chart', traces, layout, {staticPlot:true, displayModeBar:false});
</script></body></html>
